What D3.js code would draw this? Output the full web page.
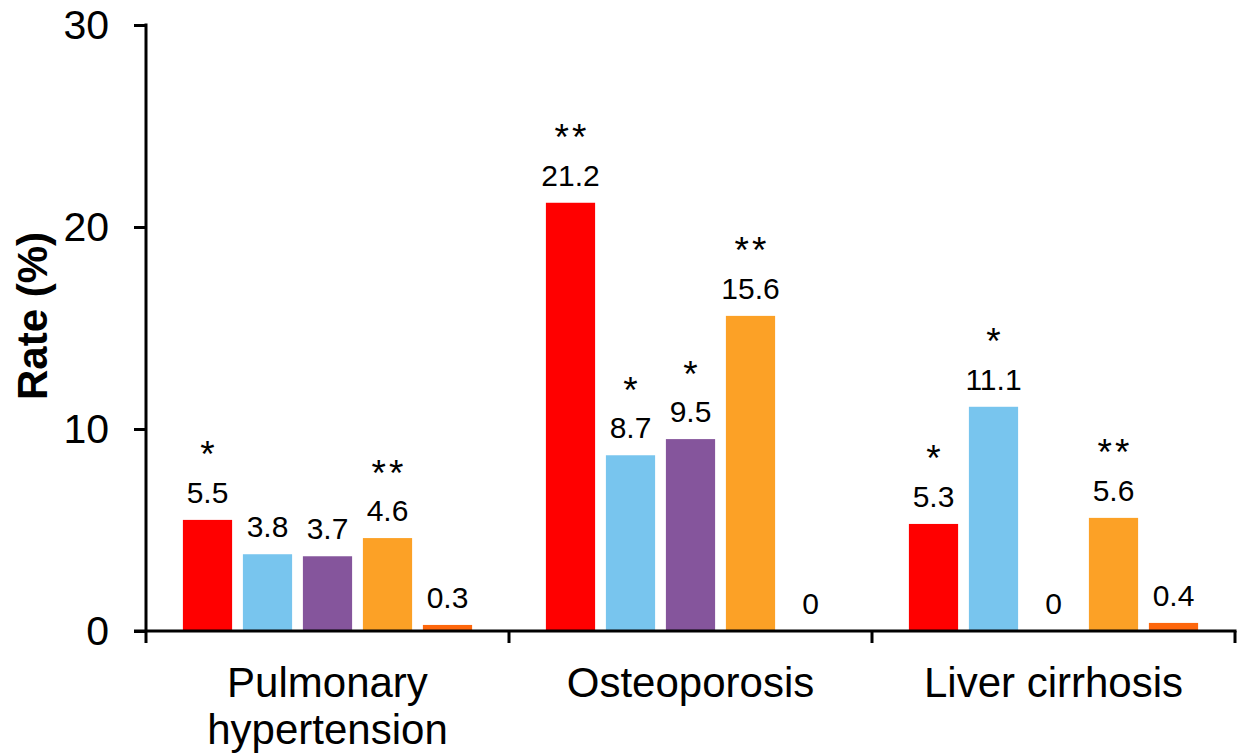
<!DOCTYPE html>
<html>
<head>
<meta charset="utf-8">
<script src="https://cdn.jsdelivr.net/npm/d3@7"></script>
<style>
  html, body { margin: 0; padding: 0; background: #fff; }
  svg { display: block; font-family: "Liberation Sans", Arial, sans-serif; }
</style>
</head>
<body>
<svg id="chart" width="1239" height="755"></svg>
<script>
// Disease categories (x groups) and their display lines
const categories = ["Pulmonary hypertension", "Osteoporosis", "Liver cirrhosis"];
const categoryLines = [["Pulmonary", "hypertension"], ["Osteoporosis"], ["Liver cirrhosis"]];

// Five series per category, rates in percent
const seriesNames = ["s1", "s2", "s3", "s4", "s5"];
const seriesColors = ["#FF0000", "#78C5EE", "#85559C", "#FCA126", "#FE670C"];
const s1Values = [5.5, 21.2, 5.3];
const s2Values = [3.8, 8.7, 11.1];
const s3Values = [3.7, 9.5, 0];
const s4Values = [4.6, 15.6, 5.6];
const s5Values = [0.3, 0, 0.4];

// Significance marks drawn above each value label
const s1Marks = ["*", "**", "*"];
const s2Marks = ["", "*", "*"];
const s3Marks = ["", "*", ""];
const s4Marks = ["**", "**", "**"];
const s5Marks = ["", "", ""];

const yTicks = [0, 10, 20, 30];
const yTitle = "Rate (%)";

const allValues = [s1Values, s2Values, s3Values, s4Values, s5Values];
const allMarks = [s1Marks, s2Marks, s3Marks, s4Marks, s5Marks];

const rows = [];
categories.forEach((cat, ci) => {
  seriesNames.forEach((s, si) => {
    rows.push({ cat, series: s, si, value: allValues[si][ci], mark: allMarks[si][ci] });
  });
});

const svg = d3.select("#chart");
const plotLeft = 146, plotRight = 1235, plotTop = 25, plotBottom = 631;

const x0 = d3.scaleBand().domain(categories).range([plotLeft, plotRight]).padding(0);
const x1 = d3.scaleBand().domain(seriesNames).range([0, x0.bandwidth()])
  .paddingInner(0.18).paddingOuter(0.615);
const y = d3.scaleLinear().domain([0, 30]).range([plotBottom, plotTop]);
const color = d3.scaleOrdinal().domain(seriesNames).range(seriesColors);
const barCenter = d => x0(d.cat) + x1(d.series) + x1.bandwidth() / 2;

// Bars
svg.append("g").selectAll("rect")
  .data(rows)
  .join("rect")
  .attr("x", d => x0(d.cat) + x1(d.series))
  .attr("width", x1.bandwidth())
  .attr("y", d => y(d.value))
  .attr("height", d => y(0) - y(d.value))
  .attr("fill", d => color(d.series));

// Value labels
svg.append("g").selectAll("text")
  .data(rows)
  .join("text")
  .attr("x", d => barCenter(d))
  .attr("y", d => y(d.value) - 17)
  .attr("text-anchor", "middle")
  .attr("font-size", 30)
  .attr("fill", "#000")
  .text(d => d3.format("")(d.value));

// Significance marks above the value labels
svg.append("g").selectAll("text")
  .data(rows.filter(d => d.mark))
  .join("text")
  .attr("x", d => barCenter(d) + 1.5)
  .attr("y", d => y(d.value) - 52.5)
  .attr("text-anchor", "middle")
  .attr("font-size", 37)
  .attr("letter-spacing", 3)
  .attr("fill", "#000")
  .text(d => d.mark);

// Y axis
const yAxis = svg.append("g")
  .attr("transform", `translate(${plotLeft},0)`)
  .call(d3.axisLeft(y).tickValues(yTicks).tickSize(12).tickPadding(25).tickFormat(d3.format("d")));
yAxis.select(".domain").attr("stroke", "#000").attr("stroke-width", 3)
  .attr("d", `M0,${plotTop - 1.5}V${plotBottom}`);
yAxis.selectAll(".tick line").attr("stroke", "#000").attr("stroke-width", 3);
yAxis.selectAll(".tick text")
  .attr("font-size", 41)
  .attr("font-family", "Liberation Sans, Arial, sans-serif")
  .attr("fill", "#000");

// X axis line with group boundary ticks
const xAxis = svg.append("g");
xAxis.append("line")
  .attr("x1", plotLeft - 12).attr("x2", plotRight + 1.5)
  .attr("y1", plotBottom).attr("y2", plotBottom)
  .attr("stroke", "#000").attr("stroke-width", 3);
const boundaries = categories.map(c => x0(c)).concat([x0(categories[categories.length - 1]) + x0.step()]);
xAxis.selectAll("line.bound")
  .data(boundaries)
  .join("line")
  .attr("class", "bound")
  .attr("x1", d => d).attr("x2", d => d)
  .attr("y1", plotBottom).attr("y2", plotBottom + 12)
  .attr("stroke", "#000").attr("stroke-width", 3);

// Category labels
const catLabels = svg.append("g").selectAll("text")
  .data(categories)
  .join("text")
  .attr("x", d => x0(d) + x0.bandwidth() / 2)
  .attr("y", 697)
  .attr("text-anchor", "middle")
  .attr("font-size", 42)
  .attr("fill", "#000");
catLabels.each(function (d, i) {
  d3.select(this).selectAll("tspan")
    .data(categoryLines[i])
    .join("tspan")
    .attr("x", x0(d) + x0.bandwidth() / 2)
    .attr("dy", (t, j) => j === 0 ? 0 : 47)
    .text(t => t);
});

// Y axis title
svg.append("text")
  .attr("transform", "translate(47,316) rotate(-90)")
  .attr("text-anchor", "middle")
  .attr("font-size", 42)
  .attr("font-weight", "bold")
  .attr("fill", "#000")
  .text(yTitle);
</script>
</body>
</html>
